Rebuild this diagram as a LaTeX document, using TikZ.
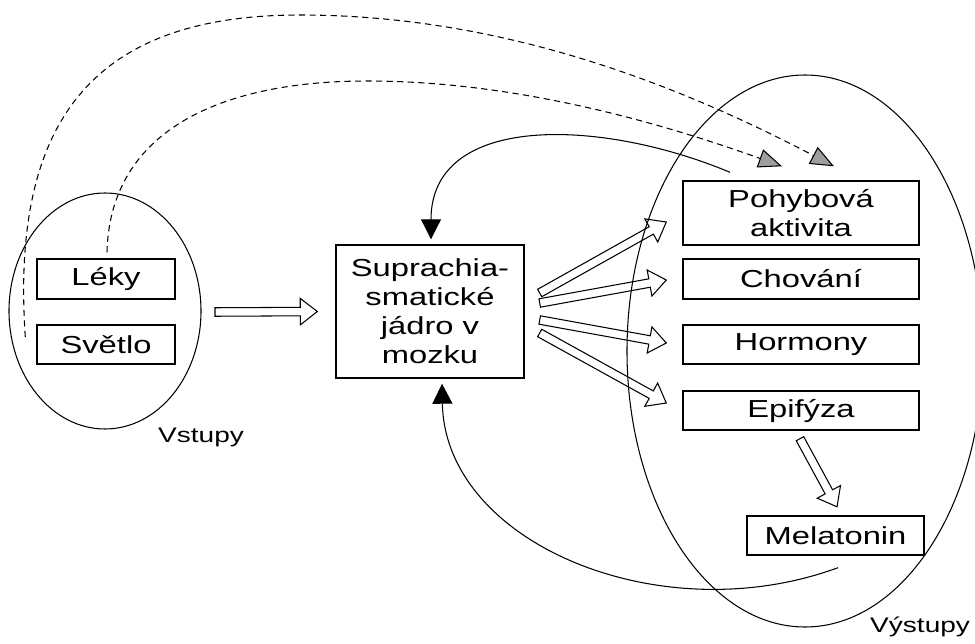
\documentclass[tikz,border=0pt]{standalone}
\usepackage{fontspec}
\setmainfont{Liberation Sans}[FakeStretch=1.33]
\usetikzlibrary{calc,arrows.meta,shapes.geometric,positioning}

\newcommand{\hollowarrow}[2]{%
  \draw[hollow] let \p1=($(#2)-(#1)$), \n1={atan2(\y1,\x1)}, \n2={veclen(\x1,\y1)} in
    ($(#1)+(\n1+90:0.085cm)$) -- ($(#1)+(\n1:{\n2-0.34cm})+(\n1+90:0.085cm)$)
    -- ($(#1)+(\n1:{\n2-0.34cm})+(\n1+90:0.265cm)$) -- (#2)
    -- ($(#1)+(\n1:{\n2-0.34cm})+(\n1-90:0.265cm)$)
    -- ($(#1)+(\n1:{\n2-0.34cm})+(\n1-90:0.085cm)$)
    -- ($(#1)+(\n1-90:0.085cm)$) -- cycle;}

\begin{document}
\begin{tikzpicture}[
    box/.style={draw, line width=0.8pt, inner sep=0pt, align=center,
                font=\fontsize{14}{16.5}\selectfont},
    group/.style={draw, ellipse, line width=0.6pt, inner sep=0pt, outer sep=0pt},
    label/.style={anchor=base west, font=\fontsize{12}{14}\selectfont},
    hollow/.style={line width=0.6pt, line join=miter},
    dasharr/.style={line width=0.6pt, dash pattern=on 3.5pt off 2.5pt,
                    -{Triangle[length=4.7mm, width=3.8mm, fill=gray!75]}},
    fbarr/.style={line width=0.6pt, -{Triangle[length=4mm, width=4mm]}}
  ]
      \useasboundingbox (0,0) rectangle (19.50,12.86);

      \node[group, minimum width=3.84cm, minimum height=4.72cm] (inputs) at ( 2.10, 6.64){};
      \node[group, minimum width=7.12cm, minimum height=11.04cm] (outputs) at (16.10, 5.84){};

      \node[box, minimum width=2.76cm, minimum height=0.80cm] (leky) at ( 2.12, 7.28){Léky};
      \node[box, minimum width=2.76cm, minimum height=0.78cm] (svetlo) at ( 2.12, 5.97){Světlo};

      \node[box, minimum width=3.76cm, minimum height=2.66cm] (cbox) at ( 8.60, 6.63){Suprachia-\\smatické\\jádro v\\mozku};

      \node[box, minimum width=4.72cm, minimum height=1.28cm] (pohyb) at (16.02, 8.60){Pohybová\\aktivita};
      \node[box, minimum width=4.72cm, minimum height=0.80cm] (chovani) at (16.02, 7.28){Chování};
      \node[box, minimum width=4.72cm, minimum height=0.78cm] (hormony) at (16.02, 5.97){Hormony};
      \node[box, minimum width=4.72cm, minimum height=0.78cm] (epifyza) at (16.02, 4.65){Epifýza};
      \node[box, minimum width=3.54cm, minimum height=0.78cm] (melatonin) at (16.71, 2.15){Melatonin};

      \node[label] (vstupy) at ( 3.04, 4.02){Vstupy};
      \node[label] (vystupy) at (17.28, 0.22){Výstupy};

      % inputs -> nucleus
      \coordinate (inT) at ($(inputs.east)+(0.28,-0.02)$);
      \coordinate (inH) at ($(cbox.west)+(-0.36,0)$);
      \hollowarrow{inT}{inH}

      \foreach \t/\dy/\ty in {pohyb/0.37/-0.18, chovani/0.17/-0.02, hormony/-0.17/0.03, epifyza/-0.43/0.15} {
        \coordinate (t\t) at ($(cbox.east)+(0.30,\dy)$);
        \coordinate (h\t) at ($(\t.west)+(-0.32,\ty)$);
        \hollowarrow{t\t}{h\t}
      }

      \coordinate (epiT) at ($(epifyza.south)+(-0.02,-0.16)$);
      \coordinate (melH) at ($(melatonin.north)+(0.03,0.17)$);
      \hollowarrow{epiT}{melH}

      \coordinate (svetloout) at ($(svetlo.west)+(-0.22,0.15)$);
      \coordinate (lekyout) at ($(leky.north)+(0.02,0.12)$);
      \coordinate (dashtipA) at ($(pohyb.north)+(-0.38,0.28)$);
      \coordinate (dashtipB) at ($(pohyb.north)+( 0.66,0.28)$);

      \draw[dasharr] (svetloout) .. controls ( 0.20,10.60) and ( 2.00,12.56) .. ( 6.00,12.56)
                                 .. controls (10.00,12.56) and (13.50,11.20) .. (dashtipB);
      \draw[dasharr] (lekyout) .. controls ( 2.20,10.30) and ( 4.50,11.24) .. ( 7.34,11.24)
                               .. controls (10.50,11.24) and (13.50,10.30) .. (dashtipA);

      \coordinate (pohybout) at ($(pohyb.north)+(-1.42,0.16)$);
      \coordinate (cboxtop) at ($(cbox.north)+(0.02,0.10)$);
      \coordinate (melout) at ($(melatonin.south)+(0.05,-0.24)$);
      \coordinate (cboxbot) at ($(cbox.south)+(0.24,-0.10)$);

      \draw[fbarr] (pohybout) .. controls (12.00,10.50) and ( 8.62,10.60) .. (cboxtop);
      \draw[fbarr] (melout) .. controls (13.20, 0.20) and ( 8.90, 2.00) .. (cboxbot);
    \end{tikzpicture}
\end{document}
